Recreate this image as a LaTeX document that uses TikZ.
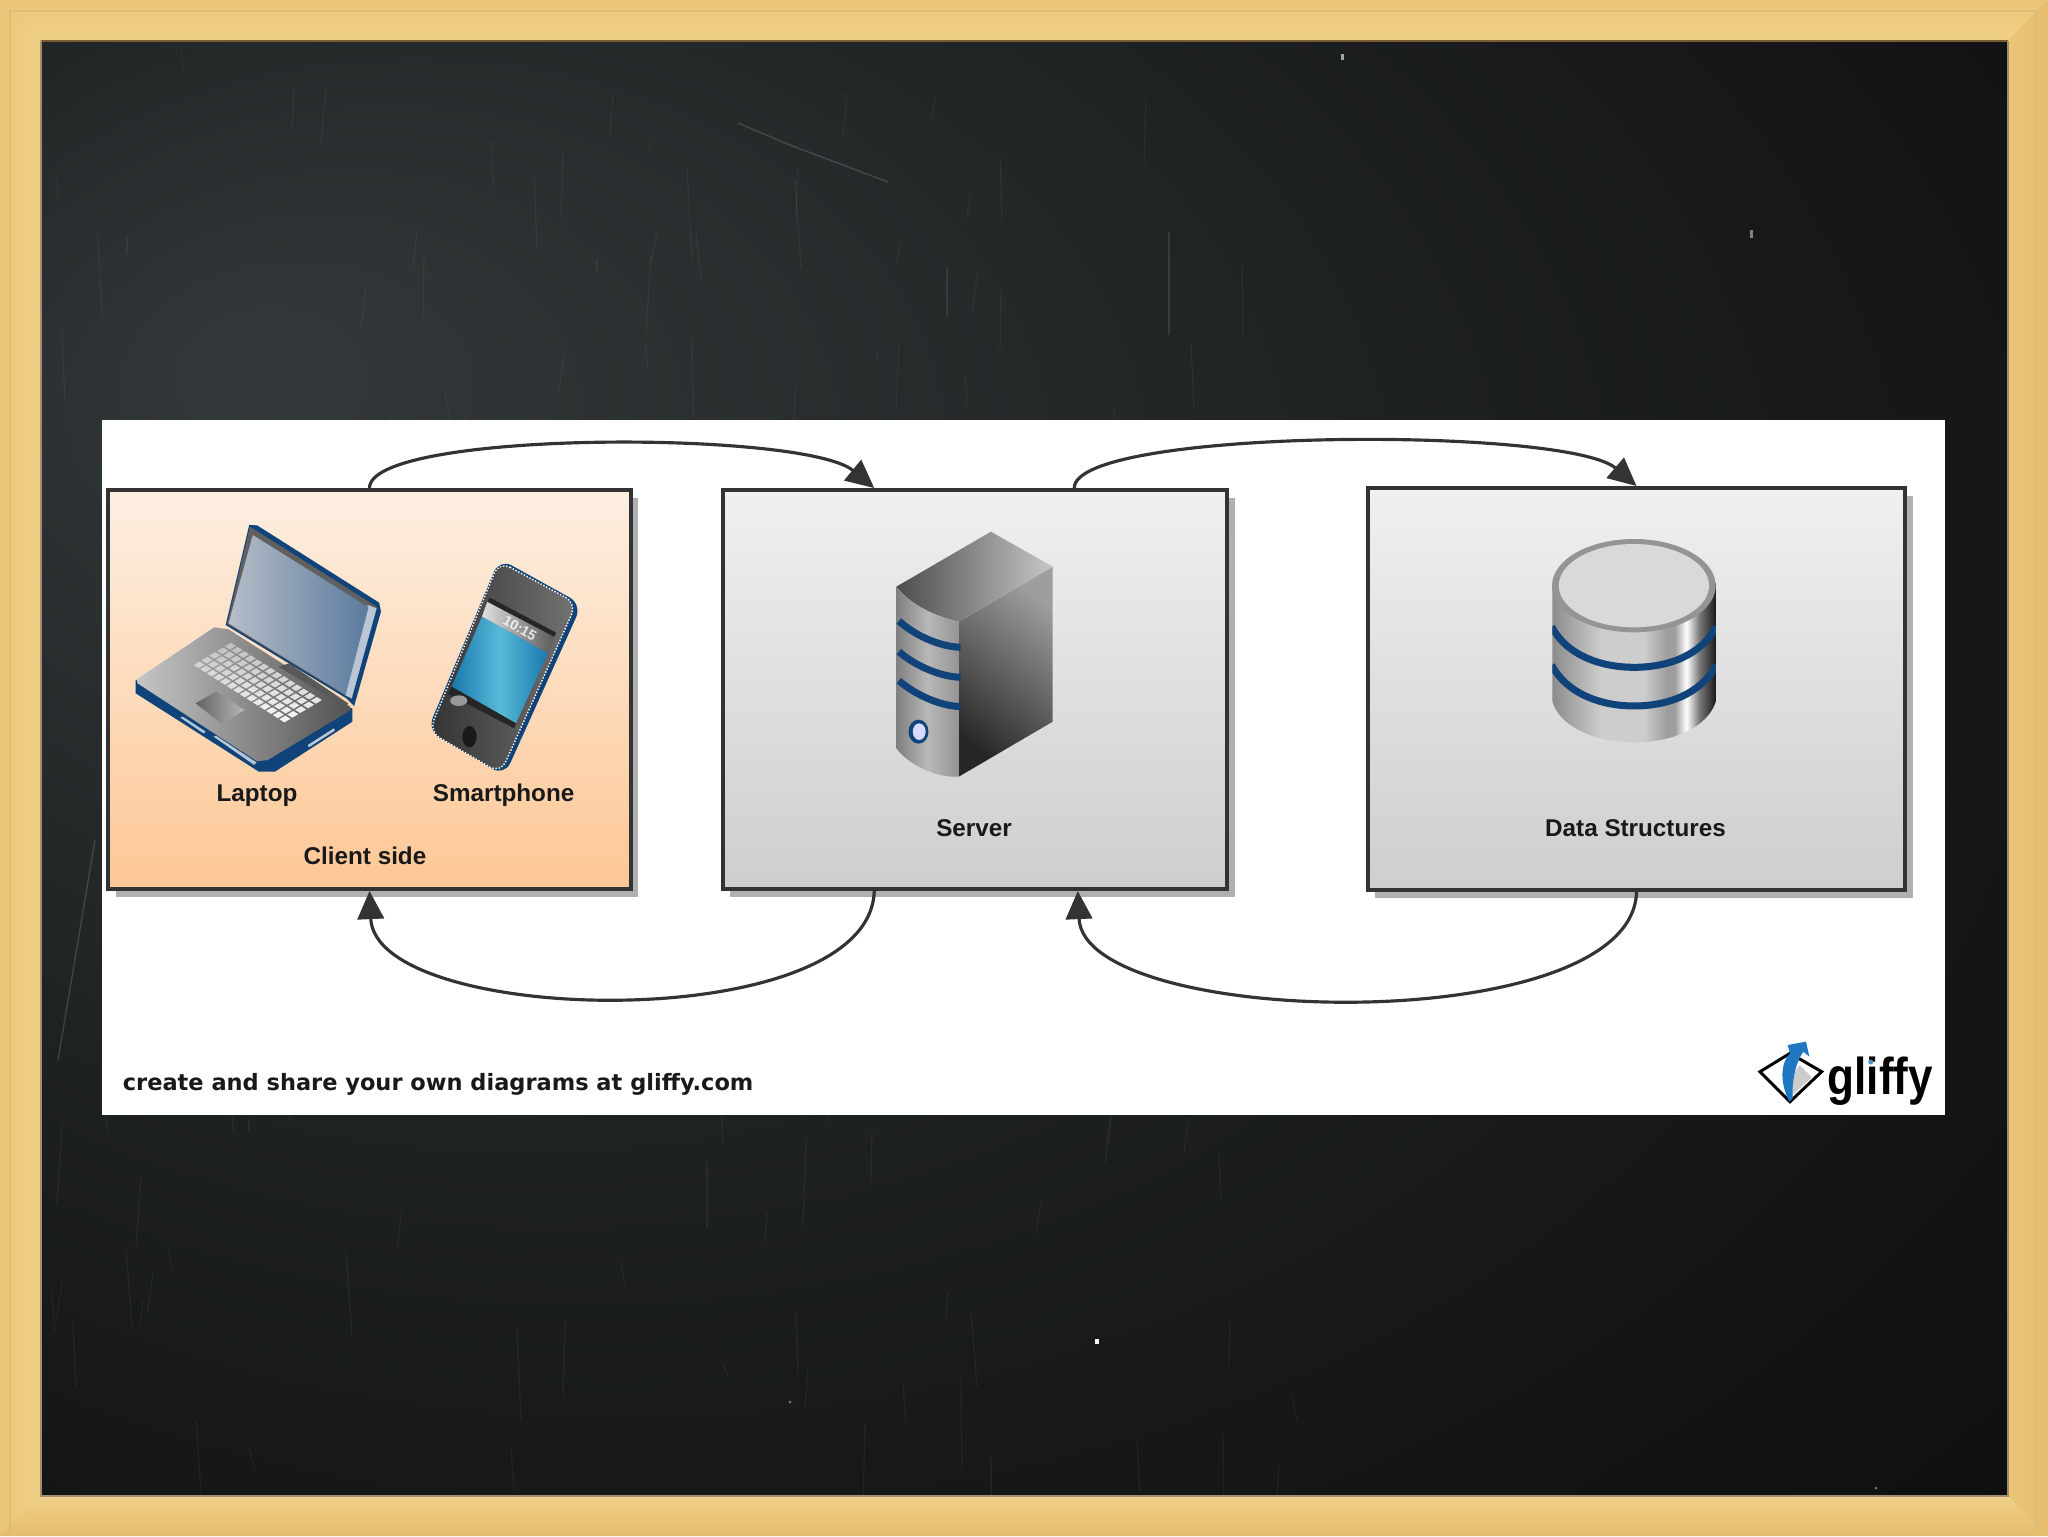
\documentclass[tikz,border=0pt]{standalone}
\usepackage{fontspec}
\setmainfont{Liberation Sans}
\newfontfamily\footfont{DejaVu Sans}
\usetikzlibrary{arrows.meta,calc,shadows}
\definecolor{woodA}{HTML}{EFCF88}
\definecolor{woodB}{HTML}{EBC577}
\definecolor{woodC}{HTML}{E6BD6C}
\definecolor{woodLine}{HTML}{DDBB78}
\definecolor{woodDark}{HTML}{7A5C30}
\definecolor{bdA}{HTML}{33383A}
\definecolor{bdB}{HTML}{25292A}
\definecolor{bdC}{HTML}{17191A}
\definecolor{bdD}{HTML}{0D0E0F}
\definecolor{inkbox}{HTML}{333333}
\definecolor{shadowgray}{HTML}{B0B0B0}
\definecolor{peachtop}{HTML}{FDEFE2}
\definecolor{peachbot}{HTML}{FDC795}
\definecolor{graytop}{HTML}{F0F0F0}
\definecolor{graybot}{HTML}{CECED0}
\definecolor{navy}{HTML}{0F4379}
\definecolor{logoblue}{HTML}{1F78C1}
\definecolor{lidL}{HTML}{B6BEC8}
\definecolor{lidR}{HTML}{5C7A9E}
\definecolor{bezel}{HTML}{B9C6D6}
\definecolor{screenA}{HTML}{1A78AE}
\definecolor{screenB}{HTML}{58BAD8}
\definecolor{cylA}{HTML}{8C8C8C}
\definecolor{cylB}{HTML}{CDCDCD}
\definecolor{cylC}{HTML}{9E9E9E}
\definecolor{cylD}{HTML}{FFFFFF}
\definecolor{cylE}{HTML}{777777}
\definecolor{cylF}{HTML}{1A1A1A}
\pgfdeclareradialshading{boardshade}{\pgfpoint{-20bp}{14bp}}{color(0bp)=(bdA);color(15bp)=(bdB);color(30bp)=(bdC);color(44bp)=(bdD);color(60bp)=(bdD)}
\pgfdeclarehorizontalshading{cylshade}{100bp}{color(0bp)=(cylA);color(25bp)=(cylA);color(40bp)=(cylB);color(53bp)=(cylB);color(60bp)=(cylC);color(62.5bp)=(cylC);color(66bp)=(cylD);color(70bp)=(cylE);color(75bp)=(cylF);color(100bp)=(cylF)}
\tikzset{
  boxnode/.style={draw=inkbox,line width=2.3pt,rectangle,inner sep=0pt,
    general shadow={fill=shadowgray,shadow xshift=0.15cm,shadow yshift=-0.16cm}},
  grayshade/.style={top color=graytop,bottom color=graybot},
  peachshade/.style={top color=peachtop,bottom color=peachbot},
  lbl/.style={font=\fontsize{13.8}{16}\selectfont\bfseries,text=black!90,inner sep=0pt,anchor=base},
  conn/.style={draw=inkbox,line width=1.8pt,-{Triangle[length=16pt,width=15pt]}},
  chalk/.style={white,opacity=0.05,line width=0.7pt},
  chalkb/.style={white,opacity=0.22,line width=0.8pt},
  stripe/.style={navy,line width=4pt},
}
\begin{document}
\begin{tikzpicture}[x=0.02cm,y=-0.02cm]
\useasboundingbox (0,0) rectangle (2048,1536);
% frame
\fill[woodB] (0,0) rectangle (2048,1536);
\shade[top color=woodB,bottom color=woodA] (0,0) -- (2048,0) -- (2008,41) -- (41,41) -- cycle;
\shade[left color=woodB,right color=woodA] (0,0) -- (41,41) -- (41,1496) -- (0,1536) -- cycle;
\shade[left color=woodB,right color=woodC] (2048,0) -- (2008,41) -- (2008,1496) -- (2048,1536) -- cycle;
\shade[top color=woodA,bottom color=woodC] (0,1536) -- (41,1496) -- (2008,1496) -- (2048,1536) -- cycle;
\draw[woodLine,line width=1pt] (10,1536) -- (10,11) -- (2036,11) -- (2036,1530);
% board
\shade[shading=boardshade] (41,41) rectangle (2008,1496);
\draw[woodDark,line width=1.6pt] (41,41) -- (2008,41);
\draw[woodDark!70,line width=0.7pt] (41,41) -- (41,1496) -- (2008,1496) -- (2008,41);
\begin{scope}
\clip (41,42) rectangle (2008,1495);
\pgfmathsetseed{7}
\foreach \k in {1,...,170}{
  \pgfmathsetmacro\sx{45+random(0,1250)}
  \pgfmathsetmacro\sy{45+random(0,1430)}
  \pgfmathsetmacro\sl{12+random(0,80)}
  \pgfmathsetmacro\sd{random(0,12)-6}
  \draw[chalk] (\sx,\sy) -- ++(\sd,\sl);
}
\draw[chalkb,opacity=.14] (738,123) -- (790,145) -- (888,182);
\draw[chalkb,opacity=.1] (1169,232) -- (1169,335);
\draw[chalkb,opacity=.08] (947,267) -- (947,317);
\draw[chalkb,opacity=.14] (95,840) -- (58,1060);
\fill[white,opacity=.6] (1341,54) rectangle (1344,60);
\fill[white,opacity=.45] (1750,230) rectangle (1753,238);
\fill[white,opacity=.95] (1095,1339) rectangle (1099,1344);
\fill[white,opacity=.4] (1876,1488) circle (1.5);
\fill[white,opacity=.4] (790,1402) circle (1.5);
\end{scope}
% panel
\fill[white] (102,420) rectangle (1945,1115);
% boxes
\node[boxnode,peachshade,minimum width=10.46cm,minimum height=7.98cm] (client) at (369.5,689.5) {};
\node[boxnode,grayshade,minimum width=10.1cm,minimum height=7.98cm] (server) at (975,689.5) {};
\node[boxnode,grayshade,minimum width=10.75cm,minimum height=8.04cm] (data) at (1636.5,689) {};
\coordinate (srvTL) at ($(server.north west)!0.302!(server.north east)$);
\coordinate (srvTR) at ($(server.north west)!0.695!(server.north east)$);
\coordinate (srvBL) at ($(server.south west)!0.302!(server.south east)$);
\coordinate (srvBR) at ($(server.south west)!0.702!(server.south east)$);
% connectors
\draw[conn] (client.north) .. controls +(0,-58) and +(-70,-58) .. (srvTL);
\draw[conn] (srvTR) .. controls +(0,-60) and +(-70,-60) .. (data.north);
\draw[conn] (srvBL) .. controls +(-4,146) and +(6,136) .. (client.south);
\draw[conn] (data.south) .. controls +(-4,148) and +(6,138) .. (srvBR);
% laptop + phone
\begin{scope}[shift={(100,420)},xscale=0.357,yscale=0.3333]
  \fill[navy] (418,315) -- (440,316) -- (782,548) -- (787,575) -- (712,858) -- (690,835) -- (352,615) -- cycle;
  \fill[gray!75!black] (420,320) -- (775,560) -- (705,838) -- (356,612) -- cycle;
  \fill[bezel] (750,555) -- (775,565) -- (705,835) -- (686,825) -- cycle;
  \shade[left color=lidL,right color=lidR] (428,345) -- (752,562) -- (688,825) -- (360,610) -- cycle;
  \fill[navy] (100,780) -- (100,820) -- (445,1055) -- (490,1055) -- (707,905) -- (707,865) -- cycle;
  \shade[left color=gray!45!white,right color=black!68!white] (103,778) -- (320,622) -- (360,628) -- (700,860) -- (703,870) -- (470,1020) -- (440,1024) -- (105,790) -- cycle;
  \fill[black!65] (500,740) -- (530,730) -- (695,850) -- (690,862) -- cycle;
  \foreach \i in {0,...,13}{
    \foreach \j in {0,...,4}{
      \pgfmathsetmacro\kc{50+3*\i-5*\j}
      \fill[white!\kc!gray!70!white] ({262+\i*18.5+\j*22},{735+\i*12.5-\j*14}) -- ++(14,9.5) -- ++(17,-10.5) -- ++(-14,-9.5) -- cycle;
    }
  }
  \shade[left color=black!62,right color=black!28] (268,850) -- (325,815) -- (405,870) -- (342,912) -- cycle;
  \fill[bezel] (318,950) -- (325,947) -- (438,1027) -- (432,1035) -- cycle;
  \fill[bezel] (225,893) -- (232,890) -- (296,935) -- (290,940) -- cycle;
  \fill[bezel] (582,975) -- (655,925) -- (658,932) -- (585,982) -- cycle;
  % phone
  \fill[navy,rounded corners=8pt] (1119,416) -- (1350,553) -- (1133,1068) -- (917,932) -- cycle;
  \shade[left color=black!80,right color=black!55,rounded corners=7pt,draw=white,densely dotted,line width=0.8pt] (1118,424) -- (1335,550) -- (1122,1060) -- (922,935) -- cycle;
  \shade[left color=black!12,right color=black!65] (1085,545) -- (1272,650) -- (1255,700) -- (1070,590) -- cycle;
  \fill[black!85] (1092,533) -- (1278,638) -- (1272,650) -- (1085,545) -- cycle;
  \shade[left color=screenA,right color=screenA,middle color=screenB] (1070,590) -- (1255,700) -- (1165,910) -- (985,800) -- cycle;
  \fill[black!85] (985,800) -- (1165,910) -- (1160,925) -- (975,822) -- cycle;
  \fill[black!40] (1005,842) ellipse (24 and 16);
  \fill[black!90] (1035,950) ellipse (20 and 32);
  \node[rotate=-30,font=\fontsize{8}{9}\selectfont\bfseries,text=white,inner sep=0pt,opacity=.8] (clock) at (1176,624) {10:15};
\end{scope}
\node[lbl] (lblLaptop) at (257,801) {Laptop};
\node[lbl] (lblPhone) at (503.6,801) {Smartphone};
\node[lbl] (lblClient) at (365,864) {Client side};
% server
\begin{scope}[shift={(700,420)},xscale=0.357,yscale=0.3333]
  \shade[shading=axis,top color=black!38,bottom color=black!85,shading angle=-40] (725,605) -- (988,440) -- (988,905) -- (725,1070) -- cycle;
  \shade[left color=black!70,right color=black!22] (550,500) -- (815,335) -- (988,440) -- (725,605) .. controls (660,590) and (590,555) .. (550,500) -- cycle;
  \shade[left color=black!50,right color=black!42,middle color=black!28] (550,500) .. controls (590,555) and (660,590) .. (725,605) -- (725,1070) .. controls (660,1075) and (580,1030) .. (550,985) -- cycle;
  \draw[stripe] (557,603) .. controls (600,645) and (670,680) .. (730,682);
  \draw[stripe] (557,695) .. controls (600,735) and (670,770) .. (730,772);
  \draw[stripe] (557,782) .. controls (600,822) and (670,858) .. (730,860);
  \fill[navy] (612,935) ellipse (28 and 36);
  \fill[white!85!blue] (614,935) ellipse (18 and 25);
\end{scope}
\node[lbl] (lblServer) at (974,836) {Server};
% database
\begin{scope}[shift={(1350,420)},xscale=0.3954,yscale=0.3333]
  \shade[shading=cylshade] (512,490) -- (512,845) .. controls (530,920) and (620,967) .. (718,967) .. controls (820,967) and (905,920) .. (925,845) -- (925,490) -- cycle;
  \begin{scope}
    \clip (512,490) rectangle (925,967);
    \draw[stripe] (510,620) .. controls (550,710) and (640,742) .. (718,742) .. controls (800,742) and (885,710) .. (927,620);
    \draw[stripe] (510,735) .. controls (550,825) and (640,858) .. (718,858) .. controls (800,858) and (885,825) .. (927,735);
  \end{scope}
  \fill[black!42] (718,497) ellipse (207 and 140);
  \fill[black!15] (718,497) ellipse (190 and 125);
\end{scope}
\node[lbl] (lblData) at (1635.5,836) {Data Structures};
% footer
\node[anchor=base west,inner sep=0pt,font=\footfont\fontsize{12.8}{15}\selectfont\bfseries,text=black!90] (footer) at (122.5,1090) {create and share your own diagrams at gliffy.com};
% logo
\begin{scope}[shift={(1720,1020)},scale=0.3333]
  \draw[black,fill=white,line width=1.7pt,line join=miter] (120,155) -- (210,100) -- (305,155) -- (210,245) -- cycle;
  \fill[black!20] (240,135) .. controls (215,160) and (215,200) .. (218,225) -- (275,172) -- cycle;
  \fill[logoblue] (208,245) .. controls (180,190) and (180,130) .. (210,100) -- (203,75) -- (258,65) -- (268,110) -- (250,95) .. controls (225,130) and (215,190) .. (218,235) -- cycle;
\end{scope}
\node[anchor=base west,inner sep=0pt,font=\fontsize{29.5}{32}\selectfont\bfseries,text=black,xscale=.85,transform shape] (gliffy) at (1827.5,1094) {gliffy};
\fill[logoblue!80] (1870.7,1062) circle (2.5);
\end{tikzpicture}
\end{document}
